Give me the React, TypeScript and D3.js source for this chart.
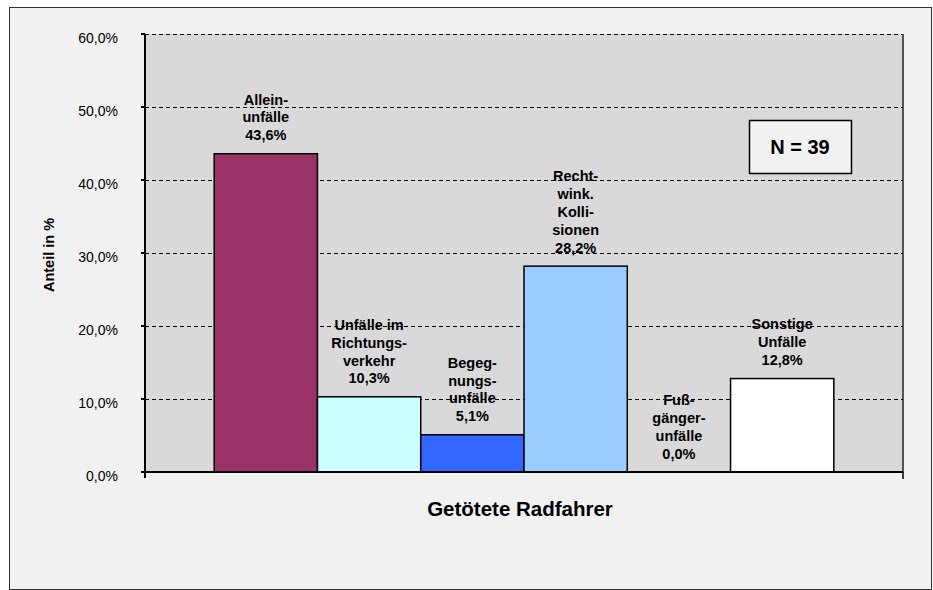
import React from "react";
import * as d3 from "d3";

const category = "Getötete Radfahrer";
const seriesNames = [
  "Alleinunfälle",
  "Unfälle im Richtungsverkehr",
  "Begegnungsunfälle",
  "Rechtwink. Kollisionen",
  "Fußgängerunfälle",
  "Sonstige Unfälle",
];
const values = [43.6, 10.3, 5.1, 28.2, 0.0, 12.8];
const labelLines = [
  ["Allein-", "unfälle", "43,6%"],
  ["Unfälle im", "Richtungs-", "verkehr", "10,3%"],
  ["Begeg-", "nungs-", "unfälle", "5,1%"],
  ["Recht-", "wink.", "Kolli-", "sionen", "28,2%"],
  ["Fuß-", "gänger-", "unfälle", "0,0%"],
  ["Sonstige", "Unfälle", "12,8%"],
];
const colors = ["#993366", "#CCFFFF", "#3366FF", "#99CCFF", "none", "#FFFFFF"];
const yTicks = [0, 10, 20, 30, 40, 50, 60];
const yTickLabels = ["0,0%", "10,0%", "20,0%", "30,0%", "40,0%", "50,0%", "60,0%"];
const yTitle = "Anteil in %";
const nLabel = "N = 39";

export default function App() {
  const W = 933;
  const H = 590;
  const left = 145, right = 903, top = 34, bottom = 472;
  const x0 = d3.scaleBand<string>().domain([category]).range([left, right]);
  const x1 = d3
    .scaleBand<number>()
    .domain(d3.range(seriesNames.length))
    .range([x0(category)!, x0(category)! + x0.bandwidth()])
    .paddingInner(0)
    .paddingOuter(0.67);
  const y = d3.scaleLinear().domain([0, 60]).range([bottom, top]);
  const font = "'Liberation Sans', Arial, sans-serif";
  const lineH = 17.8;
  const gy = (t: number) => Math.round(y(t)) + 0.5;

  return (
    <svg
      width={W}
      height={H}
      style={{ position: "absolute", left: 0, top: 0 }}
      fontFamily={font}
    >
      <rect x={9.5} y={7.5} width={922} height={582} fill="#f1f1f1" stroke="#333" strokeWidth={1} />
      <rect x={left} y={top} width={right - left} height={bottom - top} fill="#d9d9d9" />
      {/* data labels */}
      {values.map((v, i) => {
        const cx = x1(i)! + x1.bandwidth() / 2;
        const lines = labelLines[i];
        const lastCenter = y(v) - 18.5;
        return (
          <text key={"l" + i} textAnchor="middle" fontSize={14.5} fontWeight="bold" fill="#000">
            {lines.map((ln, j) => (
              <tspan key={j} x={cx} y={lastCenter - (lines.length - 1 - j) * lineH + 5}>
                {ln}
              </tspan>
            ))}
          </text>
        );
      })}
      {/* gridlines */}
      {yTicks.slice(1).map((t) => (
        <line
          key={"g" + t}
          x1={left}
          x2={right}
          y1={gy(t)}
          y2={gy(t)}
          stroke="#000"
          strokeWidth={1}
          strokeDasharray="4,3"
          shapeRendering="crispEdges"
        />
      ))}
      {/* bars */}
      {values.map((v, i) =>
        colors[i] === "none" ? null : (
          <rect
            key={"b" + i}
            x={x1(i)!}
            y={y(v)}
            width={x1.bandwidth()}
            height={y(0) - y(v)}
            fill={colors[i]}
            stroke="#000"
            strokeWidth={1.5}
          />
        )
      )}
      {/* right border of plot */}
      <line x1={right} x2={right} y1={top} y2={bottom} stroke="#222" strokeWidth={1.5} />
      {/* axes */}
      <line x1={left} x2={left} y1={top} y2={bottom + 6} stroke="#000" strokeWidth={2} />
      <line x1={left} x2={right} y1={bottom} y2={bottom} stroke="#000" strokeWidth={2} />
      <line x1={right} x2={right} y1={bottom} y2={bottom + 7} stroke="#000" strokeWidth={1.5} />
      {yTicks.map((t, i) => (
        <g key={"t" + t}>
          <line x1={left - 4} x2={left} y1={y(t)} y2={y(t)} stroke="#000" strokeWidth={2} />
          <text x={118} y={y(t) + 8.5} textAnchor="end" fontSize={14} fill="#000">
            {yTickLabels[i]}
          </text>
        </g>
      ))}
      <text
        transform={`translate(54,255) rotate(-90)`}
        textAnchor="middle"
        fontSize={14.5}
        fontWeight="bold"
      >
        {yTitle}
      </text>
      <text x={(left + right) / 2 - 4} y={516} textAnchor="middle" fontSize={20.5} fontWeight="bold">
        {category}
      </text>
      <rect x={749.5} y={120.5} width={102} height={53} fill="#f1f1f1" stroke="#000" strokeWidth={1.5} />
      <text x={800} y={154} textAnchor="middle" fontSize={20} fontWeight="bold">
        {nLabel}
      </text>
    </svg>
  );
}
